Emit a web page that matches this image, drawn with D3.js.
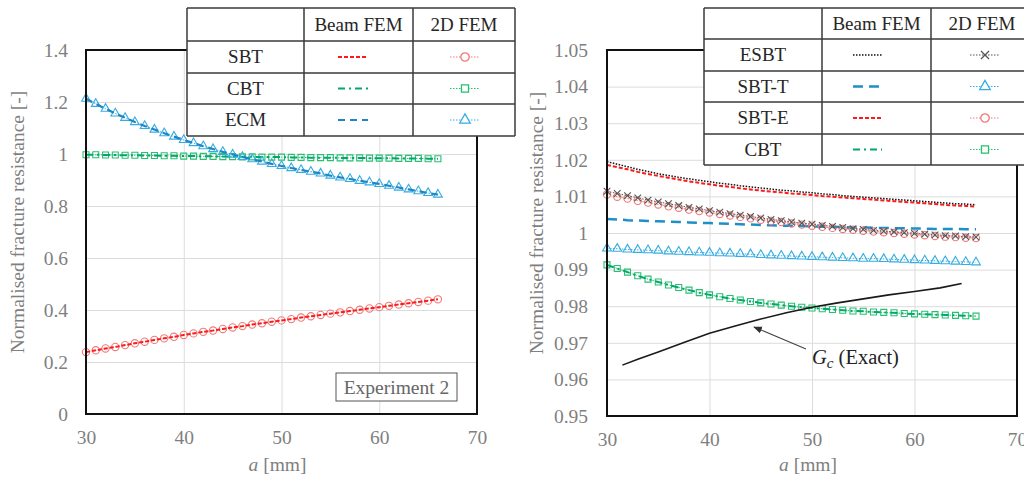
<!DOCTYPE html>
<html>
<head>
<meta charset="utf-8">
<script src="https://cdn.jsdelivr.net/npm/d3@7"></script>
<style>
  body { margin: 0; background: #fff; }
  svg text { font-family: "Liberation Serif", "DejaVu Serif", serif; }
</style>
</head>
<body>
<div id="container"></div>
<script>
// crack length a [mm]
const aPts = [30,31,32,33,34,35,36,37,38,39,40,41,42,43,44,45,46,47,48,49,50,51,52,53,54,55,56,57,58,59,60,61,62,63,64,65,66];

// Experiment 2 (left)
const sbtL = [0.238,0.245,0.252,0.258,0.265,0.272,0.278,0.285,0.291,0.297,0.304,0.310,0.316,0.321,0.327,0.333,0.338,0.344,0.349,0.355,0.360,0.365,0.371,0.376,0.381,0.386,0.391,0.396,0.401,0.406,0.411,0.416,0.421,0.426,0.431,0.436,0.441];
const cbtL = [0.997,0.997,0.996,0.996,0.995,0.995,0.994,0.994,0.993,0.993,0.992,0.992,0.991,0.991,0.990,0.990,0.989,0.989,0.988,0.988,0.988,0.987,0.987,0.986,0.986,0.986,0.985,0.985,0.985,0.984,0.984,0.984,0.983,0.983,0.983,0.982,0.982];
const ecmL = [1.213,1.193,1.174,1.156,1.139,1.123,1.108,1.094,1.080,1.067,1.054,1.042,1.030,1.019,1.008,0.998,0.989,0.980,0.971,0.962,0.954,0.946,0.939,0.932,0.925,0.917,0.910,0.904,0.897,0.891,0.885,0.878,0.871,0.864,0.857,0.850,0.844];

// right panel
const esbtBeam = [1.0195,1.0188,1.0181,1.0174,1.0168,1.0162,1.0157,1.0152,1.0148,1.0144,1.0140,1.0136,1.0133,1.0129,1.0126,1.0123,1.0120,1.0117,1.0115,1.0112,1.0110,1.0107,1.0105,1.0102,1.0100,1.0098,1.0096,1.0094,1.0092,1.0090,1.0088,1.0086,1.0084,1.0082,1.0080,1.0079,1.0077];
const esbt2D = [1.0114,1.0108,1.0102,1.0096,1.0090,1.0085,1.0080,1.0075,1.0070,1.0066,1.0061,1.0057,1.0053,1.0049,1.0045,1.0041,1.0037,1.0034,1.0030,1.0027,1.0024,1.0021,1.0018,1.0015,1.0012,1.0010,1.0007,1.0005,1.0003,1.0001,0.9999,0.9997,0.9995,0.9993,0.9992,0.9990,0.9989];
const sbttBeam = [1.0038,1.0037,1.0035,1.0034,1.0033,1.0032,1.0031,1.0030,1.0029,1.0028,1.0027,1.0026,1.0025,1.0024,1.0023,1.0022,1.0021,1.0020,1.0020,1.0019,1.0018,1.0017,1.0017,1.0016,1.0015,1.0015,1.0014,1.0014,1.0013,1.0013,1.0012,1.0012,1.0011,1.0011,1.0011,1.0010,1.0010];
const sbtt2D = [0.9958,0.9957,0.9955,0.9954,0.9953,0.9952,0.9950,0.9949,0.9948,0.9947,0.9946,0.9945,0.9944,0.9943,0.9942,0.9940,0.9939,0.9938,0.9937,0.9936,0.9935,0.9934,0.9933,0.9932,0.9931,0.9930,0.9930,0.9929,0.9928,0.9927,0.9926,0.9925,0.9924,0.9923,0.9922,0.9921,0.9920];
const sbteBeam = [1.0186,1.0180,1.0174,1.0167,1.0161,1.0156,1.0151,1.0146,1.0141,1.0137,1.0133,1.0129,1.0126,1.0122,1.0119,1.0116,1.0113,1.0111,1.0108,1.0106,1.0104,1.0101,1.0099,1.0097,1.0095,1.0093,1.0091,1.0089,1.0087,1.0085,1.0083,1.0081,1.0079,1.0077,1.0075,1.0074,1.0072];
const sbte2D = [1.0105,1.0099,1.0094,1.0088,1.0083,1.0078,1.0073,1.0069,1.0064,1.0060,1.0056,1.0052,1.0048,1.0044,1.0040,1.0036,1.0033,1.0030,1.0026,1.0023,1.0020,1.0017,1.0014,1.0011,1.0009,1.0006,1.0004,1.0002,1.0000,0.9998,0.9996,0.9994,0.9992,0.9990,0.9989,0.9987,0.9986];
const cbtR = [0.9913,0.9903,0.9893,0.9883,0.9874,0.9866,0.9858,0.9851,0.9844,0.9837,0.9831,0.9826,0.9821,0.9817,0.9813,0.9809,0.9806,0.9803,0.9800,0.9797,0.9795,0.9793,0.9791,0.9789,0.9787,0.9786,0.9784,0.9783,0.9782,0.9780,0.9779,0.9778,0.9777,0.9776,0.9775,0.9774,0.9773];
const gcA = [31.5,33,35,37.5,40,42.5,45,47.5,50,52.5,55,57.5,60,62.5,64.6];
const gcExact = [0.9639,0.9655,0.9675,0.9701,0.9726,0.9746,0.9765,0.9782,0.9797,0.9809,0.9820,0.9831,0.9840,0.9850,0.9862];

const xTicks = [30,40,50,60,70];
const yTicksL = [0,0.2,0.4,0.6,0.8,1,1.2,1.4];
const yTicksR = [0.95,0.96,0.97,0.98,0.99,1,1.01,1.02,1.03,1.04,1.05];

const svg = d3.select("#container").append("svg")
  .attr("width", 1024).attr("height", 482);

// line styles
const st = {
  sbtB:  {color: "#ff1a1a", width: 2, dash: "4,2"},
  sbt2:  {color: "#f07a7a", symbol: d3.symbolCircle, size: 42},
  cbtB:  {color: "#00a870", width: 2, dash: "7,4,2,4"},
  cbt2:  {color: "#28c070", symbol: d3.symbolSquare, size: 36},
  ecmB:  {color: "#1f86c4", width: 2.2, dash: "7,5"},
  ecm2:  {color: "#35ace2", symbol: d3.symbolTriangle, size: 34},
  esbtB: {color: "#111", width: 1.5, dash: "1.5,1.5"},
  esbt2: {color: "#555", symbol: d3.symbolX, size: 30},
  sbttB: {color: "#1f8fc8", width: 2.5, dash: "10,6"},
  sbtt2: {color: "#35ace2", symbol: d3.symbolTriangle, size: 34}
};

function panel(o) {
  const x = d3.scaleLinear().domain([30, 70]).range([o.left, o.right]);
  const y = d3.scaleLinear().domain(o.yDomain).range([o.bottom, o.top]);
  const g = svg.append("g");

  // grid
  g.append("g").attr("transform", `translate(0,${o.bottom})`)
    .call(d3.axisBottom(x).tickValues(xTicks).tickSize(-(o.bottom - o.top)).tickFormat(""))
    .call(s => s.select(".domain").remove())
    .call(s => s.selectAll("line").attr("stroke", "#dcdcdc"));
  g.append("g").attr("transform", `translate(${o.left},0)`)
    .call(d3.axisLeft(y).tickValues(o.yTicks).tickSize(-(o.right - o.left)).tickFormat(""))
    .call(s => s.select(".domain").remove())
    .call(s => s.selectAll("line").attr("stroke", "#dcdcdc"));

  // tick labels
  g.append("g").attr("transform", `translate(0,${o.bottom})`)
    .call(d3.axisBottom(x).tickValues(xTicks).tickSize(0).tickPadding(16))
    .call(s => s.select(".domain").remove())
    .call(s => s.selectAll("text").attr("fill", "#7f7f7f")
      .style("font-size", "19.5px").style("font-family", "Liberation Serif, serif"));
  g.append("g").attr("transform", `translate(${o.left},0)`)
    .call(d3.axisLeft(y).tickValues(o.yTicks).tickSize(0).tickPadding(o.yPad)
      .tickFormat(d => String(+d.toFixed(o.dec))))
    .call(s => s.select(".domain").remove())
    .call(s => s.selectAll("text").attr("fill", "#7f7f7f")
      .style("font-size", "19.5px").style("font-family", "Liberation Serif, serif"));

  // axis titles
  const xt = g.append("text").attr("x", (o.left + o.right) / 2 - 4).attr("y", 471)
    .attr("text-anchor", "middle").attr("fill", "#7f7f7f").style("font-size", "19.5px");
  xt.append("tspan").style("font-style", "italic").text("a");
  xt.append("tspan").text(" [mm]");
  g.append("text")
    .attr("transform", `translate(${o.yTitleX},${(o.top + o.bottom) / 2 - 10}) rotate(-90)`)
    .attr("text-anchor", "middle").attr("fill", "#7f7f7f").style("font-size", "19.5px")
    .text("Normalised fracture resistance [-]");

  const plot = g.append("g");
  o.series.forEach(s => {
    const xs = s.a || aPts;
    const pts = xs.map((a, i) => [a, s.v[i]]);
    const line = d3.line().x(d => x(d[0])).y(d => y(d[1]));
    if (s.st.symbol) {
      plot.append("path").datum(pts).attr("d", line).attr("fill", "none")
        .attr("stroke", s.st.color).attr("stroke-width", 1).attr("stroke-dasharray", "1.5,1.5");
      plot.selectAll(null).data(pts).enter().append("path")
        .attr("transform", d => `translate(${x(d[0])},${y(d[1])})`)
        .attr("d", d3.symbol().type(s.st.symbol).size(s.st.size))
        .attr("fill", "none").attr("stroke", s.st.color).attr("stroke-width", 1.1);
    } else {
      plot.append("path").datum(pts).attr("d", line).attr("fill", "none")
        .attr("stroke", s.st.color).attr("stroke-width", s.st.width)
        .attr("stroke-dasharray", s.st.dash || null);
    }
  });

  // frame
  g.append("rect").attr("x", o.left).attr("y", o.top)
    .attr("width", o.right - o.left).attr("height", o.bottom - o.top)
    .attr("fill", "none").attr("stroke", "#111").attr("stroke-width", 2);

  return {x, y, g};
}

function legendTable(t) {
  const g = svg.append("g");
  const rowsY = t.rowY;
  g.append("rect").attr("x", t.cols[0]).attr("y", rowsY[0])
    .attr("width", t.cols[3] - t.cols[0]).attr("height", rowsY[rowsY.length - 1] - rowsY[0])
    .attr("fill", "#fff");
  const ln = "#3a3a3a";
  rowsY.forEach(yy => g.append("line").attr("x1", t.cols[0]).attr("x2", t.cols[3])
    .attr("y1", yy).attr("y2", yy).attr("stroke", ln).attr("stroke-width", 1.5));
  t.cols.forEach(xx => g.append("line").attr("x1", xx).attr("x2", xx)
    .attr("y1", rowsY[0]).attr("y2", rowsY[rowsY.length - 1]).attr("stroke", ln).attr("stroke-width", 1.5));
  const cx = i => (t.cols[i] + t.cols[i + 1]) / 2;
  const cy = i => (rowsY[i] + rowsY[i + 1]) / 2;
  ["Beam FEM", "2D FEM"].forEach((h, i) => g.append("text").attr("x", cx(i + 1)).attr("y", cy(0) + 6)
    .attr("text-anchor", "middle").attr("fill", "#262626").style("font-size", "19px").text(h));
  t.rows.forEach((r, i) => {
    const yy = cy(i + 1);
    g.append("text").attr("x", cx(0)).attr("y", yy + 6).attr("text-anchor", "middle")
      .attr("fill", "#262626").style("font-size", "19px").text(r.name);
    g.append("line").attr("x1", t.beamX[0]).attr("x2", t.beamX[1]).attr("y1", yy).attr("y2", yy)
      .attr("stroke", r.beam.color).attr("stroke-width", r.beam.width)
      .attr("stroke-dasharray", r.beam.dash);
    g.append("line").attr("x1", t.femX[0]).attr("x2", t.femX[2]).attr("y1", yy).attr("y2", yy)
      .attr("stroke", r.fem.color).attr("stroke-width", 1).attr("stroke-dasharray", "1.5,1.5");
    g.append("path").attr("transform", `translate(${t.femX[1]},${yy})`)
      .attr("d", d3.symbol().type(r.fem.symbol).size(r.fem.size + 14))
      .attr("fill", "#fff").attr("stroke", r.fem.color).attr("stroke-width", 1.3);
  });
}

// left panel
panel({
  left: 86, right: 477, top: 50, bottom: 414, yDomain: [0, 1.4], yTicks: yTicksL,
  dec: 1, yPad: 18, yTitleX: 24,
  series: [
    {v: sbtL, st: st.sbt2}, {v: sbtL, st: st.sbtB},
    {v: cbtL, st: st.cbt2}, {v: cbtL, st: st.cbtB},
    {v: ecmL, st: st.ecm2}, {v: ecmL, st: st.ecmB}
  ]
});
svg.append("rect").attr("x", 336).attr("y", 373).attr("width", 121).attr("height", 28)
  .attr("fill", "#fff").attr("stroke", "#555").attr("stroke-width", 1);
svg.append("text").attr("x", 396.5).attr("y", 394).attr("text-anchor", "middle")
  .attr("fill", "#666").style("font-size", "19.5px").text("Experiment 2");

legendTable({
  cols: [187, 304, 413, 515], rowY: [8, 41, 73, 104, 136],
  beamX: [338, 368], femX: [450, 465, 480],
  rows: [
    {name: "SBT", beam: st.sbtB, fem: st.sbt2},
    {name: "CBT", beam: st.cbtB, fem: st.cbt2},
    {name: "ECM", beam: st.ecmB, fem: st.ecm2}
  ]
});

// right panel
panel({
  left: 607, right: 1017, top: 50, bottom: 416, yDomain: [0.95, 1.05], yTicks: yTicksR,
  dec: 2, yPad: 19, yTitleX: 543,
  series: [
    {v: cbtR, st: st.cbt2}, {v: cbtR, st: st.cbtB},
    {v: sbtt2D, st: st.sbtt2}, {v: sbttBeam, st: st.sbttB},
    {v: sbte2D, st: st.sbt2}, {v: esbt2D, st: st.esbt2},
    {v: sbteBeam, st: st.sbtB}, {v: esbtBeam, st: st.esbtB},
    {a: gcA, v: gcExact, st: {color: "#1a1a1a", width: 1.6}}
  ]
});

// annotation
svg.append("defs").append("marker").attr("id", "arr").attr("viewBox", "0 0 10 10")
  .attr("refX", 9).attr("refY", 5).attr("markerWidth", 8).attr("markerHeight", 8)
  .attr("orient", "auto").append("path").attr("d", "M0,1 L10,5 L0,9 Z").attr("fill", "#333");
svg.append("line").attr("x1", 806).attr("y1", 349).attr("x2", 754).attr("y2", 327)
  .attr("stroke", "#444").attr("stroke-width", 1.1).attr("marker-end", "url(#arr)");
const gt = svg.append("text").attr("x", 812).attr("y", 364).attr("fill", "#222").style("font-size", "20.5px");
gt.append("tspan").style("font-style", "italic").text("G");
gt.append("tspan").style("font-style", "italic").style("font-size", "15px").attr("dy", 4).text("c");
gt.append("tspan").attr("dy", -4).text(" (Exact)");

legendTable({
  cols: [704, 822, 931, 1033], rowY: [8, 39, 71, 102, 134, 165],
  beamX: [853, 882], femX: [970, 985, 1000],
  rows: [
    {name: "ESBT", beam: st.esbtB, fem: st.esbt2},
    {name: "SBT-T", beam: st.sbttB, fem: st.sbtt2},
    {name: "SBT-E", beam: st.sbtB, fem: st.sbt2},
    {name: "CBT", beam: st.cbtB, fem: st.cbt2}
  ]
});
</script>
</body>
</html>
